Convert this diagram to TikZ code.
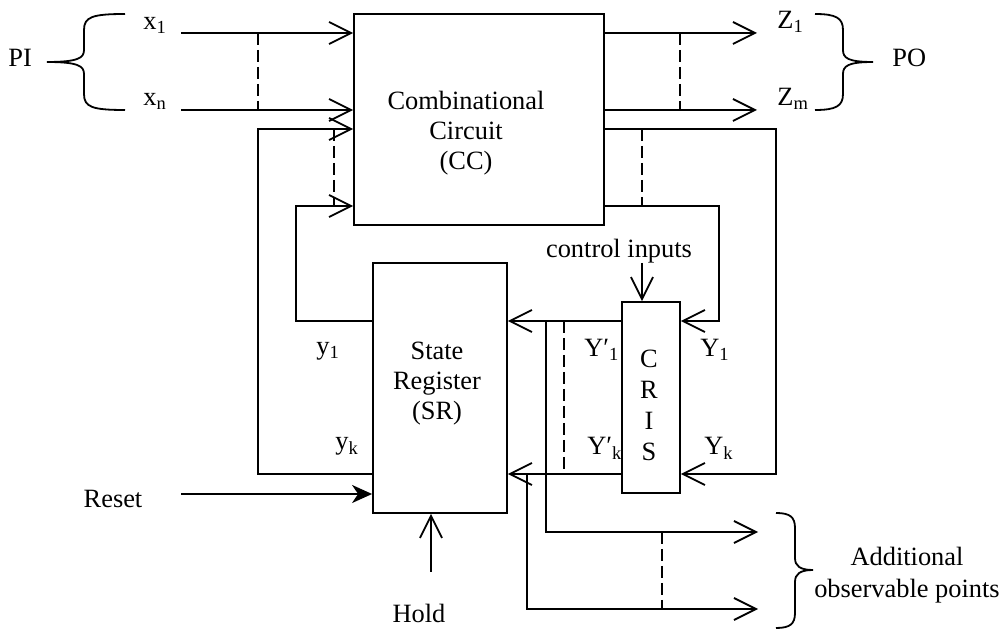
\documentclass[tikz,border=0pt]{standalone}
\usepackage{fontspec}
\setmainfont{Liberation Serif}
\usepackage{tikz}
\usetikzlibrary{arrows.meta, positioning, calc}
\tikzset{
    block/.style={rectangle, draw, line width=0.9pt, inner sep=0pt},
    arrow/.style={-{Straight Barb[length=11pt, width=11pt]}, line width=0.9pt},
    arrow_solid/.style={-{Stealth[length=10pt, width=9pt, inset=3pt]}, line width=0.9pt},
    bus/.style={line width=0.9pt, dash pattern=on 6pt off 2.5pt},
    curly/.style={line width=0.9pt},
    tag/.style={anchor=base west, inner sep=0pt},
    word/.style={anchor=base, inner sep=0pt}
}
\begin{document}
\begin{tikzpicture}[x=0.5pt, y=-0.5pt, font=\fontsize{13.2}{15}\selectfont]
    \useasboundingbox (0,0) rectangle (1008,630);

    % Blocks
    \node (cc) [block, minimum width=125pt, minimum height=105.5pt] at (479,119.5) {};
    \node (sr) [block, minimum width=67pt, minimum height=125pt] at (440,388) {};
    \node (cris) [block, minimum width=29pt, minimum height=95.5pt] at (651,397.5) {};
    \node (cctext) [align=center] at (466,133.4) {Combinational\\Circuit\\(CC)};
    \node (srtext) [align=center] at (437,383.4) {State\\Register\\(SR)};
    \node (cristext) [align=center] at (649,405) {C\\[0.5pt]R\\[0.5pt]I\\[0.5pt]S};

    % Primary inputs and outputs
    \coordinate (x1) at (181,33);
    \coordinate (xn) at (181,110);
    \coordinate (z1) at (757,33);
    \coordinate (zm) at (757,110);
    \draw [arrow] (x1) -- (x1 -| cc.west);
    \draw [arrow] (xn) -- (xn -| cc.west);
    \draw [bus] (258,33) -- (258,110);
    \draw [arrow] (z1 -| cc.east) -- (z1);
    \draw [arrow] (zm -| cc.east) -- (zm);
    \draw [bus] (680,33) -- (680,110);

    % State lines back into CC
    \draw [arrow] (sr.west |- 0,474) -| (258,129) -- (cc.west |- 0,129);
    \draw [arrow] (sr.west |- 0,321) -| (296,206) -- (cc.west |- 0,206);
    \draw [bus] (334,129) -- (334,206);

    % Next state through CRIS
    \draw [arrow] (cc.east |- 0,129) -| (776,474) -- (cris.east |- 0,474);
    \draw [arrow] (cc.east |- 0,206) -| (719,321) -- (cris.east |- 0,321);
    \draw [bus] (642,129) -- (642,206);
    \draw [arrow] (cris.west |- 0,321) -- (sr.east |- 0,321);
    \draw [arrow] (cris.west |- 0,474) -- (sr.east |- 0,474);
    \draw [bus] (564,321) -- (564,474);

    % Observable points
    \coordinate (obs1) at (758,532);
    \coordinate (obsk) at (758,609);
    \draw [arrow] (546,321) |- (obs1);
    \draw [arrow] (527,474) |- (obsk);
    \draw [bus] (662,532) -- (662,609);

    % Control, reset and hold
    \coordinate (ctrl) at (642,263);
    \coordinate (reset) at (181,494);
    \coordinate (hold) at (431,572);
    \draw [arrow] (ctrl) -- (ctrl |- cris.north);
    \draw [arrow_solid] (reset) -- (reset -| sr.west);
    \draw [arrow] (hold) -- (hold |- sr.south);

    % Braces
    \draw [curly] (125,14) .. controls (92,14) and (84,17) .. (84,30) -- (84,50) .. controls (84,58) and (78,62) .. (47,62)
        .. controls (78,62) and (84,66) .. (84,74) -- (84,94) .. controls (84,107) and (92,110) .. (125,110);
    \draw [curly] (815,14) .. controls (836,14) and (843,18) .. (843,30) -- (843,50) .. controls (843,58) and (848,62) .. (873,62)
        .. controls (848,62) and (843,66) .. (843,74) -- (843,94) .. controls (843,106) and (836,110) .. (815,110);
    \draw [curly] (776,513) .. controls (790,513) and (795,517) .. (795,528) -- (795,558) .. controls (795,566) and (800,570) .. (813,570)
        .. controls (800,570) and (795,574) .. (795,582) -- (795,613) .. controls (795,624) and (790,628) .. (776,628);

    % Labels
    \node (lblpi) [tag] at (8,67) {PI};
    \node (lblpo) [tag] at (892,67) {PO};
    \node (lblx1) [tag] at (143,30) {x\textsubscript{1}};
    \node (lblxn) [tag] at (143,106) {x\textsubscript{n}};
    \node (lblz1) [tag] at (777,29) {Z\textsubscript{1}};
    \node (lblzm) [tag] at (777,106) {Z\textsubscript{m}};
    \node (lbly1) [tag] at (316,355) {y\textsubscript{1}};
    \node (lblyk) [tag] at (335,450) {y\textsubscript{k}};
    \node (lblyp1) [tag] at (584,357) {Y′\textsubscript{1}};
    \node (lblypk) [tag] at (587,455) {Y′\textsubscript{k}};
    \node (lblY1) [tag] at (700,357) {Y\textsubscript{1}};
    \node (lblYk) [tag] at (704,455) {Y\textsubscript{k}};
    \node (lblctrl) [word] at (619,258) {control inputs};
    \node (lblreset) [word] at (113,508) {Reset};
    \node (lblhold) [word] at (419,623) {Hold};
    \node (lblobs) [align=center] at (907,575) {Additional\\[1pt]observable points};
\end{tikzpicture}
\end{document}
